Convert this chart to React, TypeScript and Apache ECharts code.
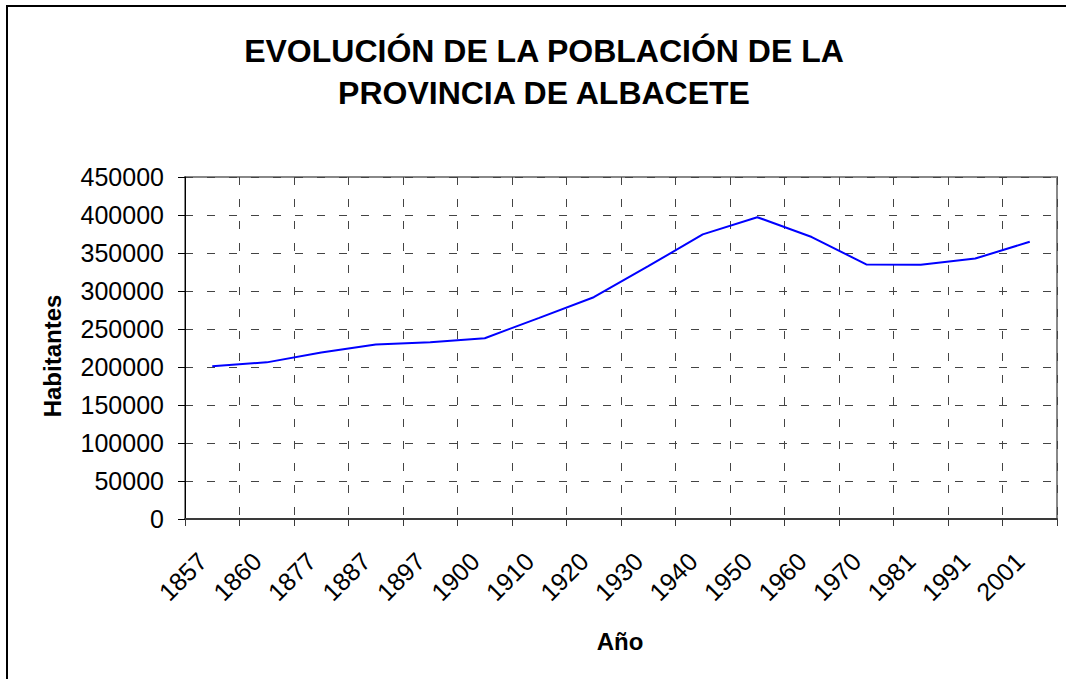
import React, { useEffect, useRef } from "react";
import * as echarts from "echarts";

const titleLines = ["EVOLUCIÓN DE LA POBLACIÓN DE LA", "PROVINCIA DE ALBACETE"];
const xAxisTitle = "Año";
const yAxisTitle = "Habitantes";
const years = ["1857", "1860", "1877", "1887", "1897", "1900", "1910", "1920", "1930", "1940", "1950", "1960", "1970", "1981", "1991", "2001"];
const population = [201118, 206099, 219058, 229492, 232616, 237877, 264698, 291833, 332619, 374472, 397100, 370976, 335026, 334468, 342677, 364835];
const yMin = 0;
const yMax = 450000;
const yInterval = 50000;

const FONT = "'Liberation Sans', Arial, sans-serif";

export default function App() {
  const ref = useRef<HTMLDivElement>(null);
  useEffect(() => {
    const chart = echarts.init(ref.current!, null, { renderer: "svg" });
    chart.setOption({
      animation: false,
      backgroundColor: "#ffffff",
      textStyle: { fontFamily: FONT },
      title: {
        text: titleLines.join("\n"),
        left: 544,
        top: 30,
        padding: 0,
        textAlign: "center",
        textStyle: {
          fontFamily: FONT,
          fontSize: 32,
          fontWeight: "bold",
          color: "#000",
          lineHeight: 42,
        },
      },
      grid: {
        left: 185,
        right: 9,
        top: 177,
        bottom: 160,
        show: true,
        borderColor: "#888888",
        borderWidth: 2,
        backgroundColor: "#ffffff",
      },
      xAxis: {
        type: "category",
        data: years,
        boundaryGap: true,
        axisLine: { show: true, lineStyle: { color: "#3a3a3a", width: 2 } },
        axisTick: { show: true, length: 7, interval: 0, lineStyle: { color: "#3a3a3a", width: 1 } },
        axisLabel: {
          interval: 0,
          rotate: 45,
          margin: 28,
          padding: [0, 14, 0, 0],
          fontSize: 25,
          fontFamily: FONT,
          color: "#000",
        },
        splitLine: {
          show: true,
          interval: 0,
          lineStyle: { color: "#444", width: 1, type: [8, 14] },
        },
      },
      yAxis: {
        type: "value",
        min: yMin,
        max: yMax,
        interval: yInterval,
        axisLine: { show: true, lineStyle: { color: "#000", width: 1 } },
        axisTick: { show: true, length: 7, lineStyle: { color: "#000", width: 1 } },
        axisLabel: {
          margin: 21,
          fontSize: 25,
          fontFamily: FONT,
          color: "#000",
          formatter: (v: number) => String(v),
        },
        splitLine: {
          show: true,
          lineStyle: { color: "#444", width: 1, type: [8, 14] },
        },
      },
      series: [
        {
          type: "line",
          data: population,
          showSymbol: false,
          symbol: "none",
          lineStyle: { color: "#0000ff", width: 2 },
          itemStyle: { color: "#0000ff" },
        },
      ],
      graphic: [
        {
          type: "rect",
          shape: { x: 7, y: 6, width: 1100, height: 720 },
          style: { fill: "none", stroke: "#000", lineWidth: 2 },
          silent: true,
          z: 100,
        },
        {
          type: "text",
          x: 620,
          y: 641,
          style: {
            text: xAxisTitle,
            fontFamily: FONT,
            fontSize: 24,
            fontWeight: "bold",
            fill: "#000",
            textAlign: "center",
            textVerticalAlign: "middle",
          },
        },
        {
          type: "text",
          x: 52,
          y: 356,
          rotation: Math.PI / 2,
          style: {
            text: yAxisTitle,
            fontFamily: FONT,
            fontSize: 24,
            fontWeight: "bold",
            fill: "#000",
            textAlign: "center",
            textVerticalAlign: "middle",
          },
        },
      ],
    });
    return () => chart.dispose();
  }, []);
  return (
    <div
      ref={ref}
      style={{ position: "fixed", left: 0, top: 0, width: 1066, height: 679, background: "#fff" }}
    />
  );
}
